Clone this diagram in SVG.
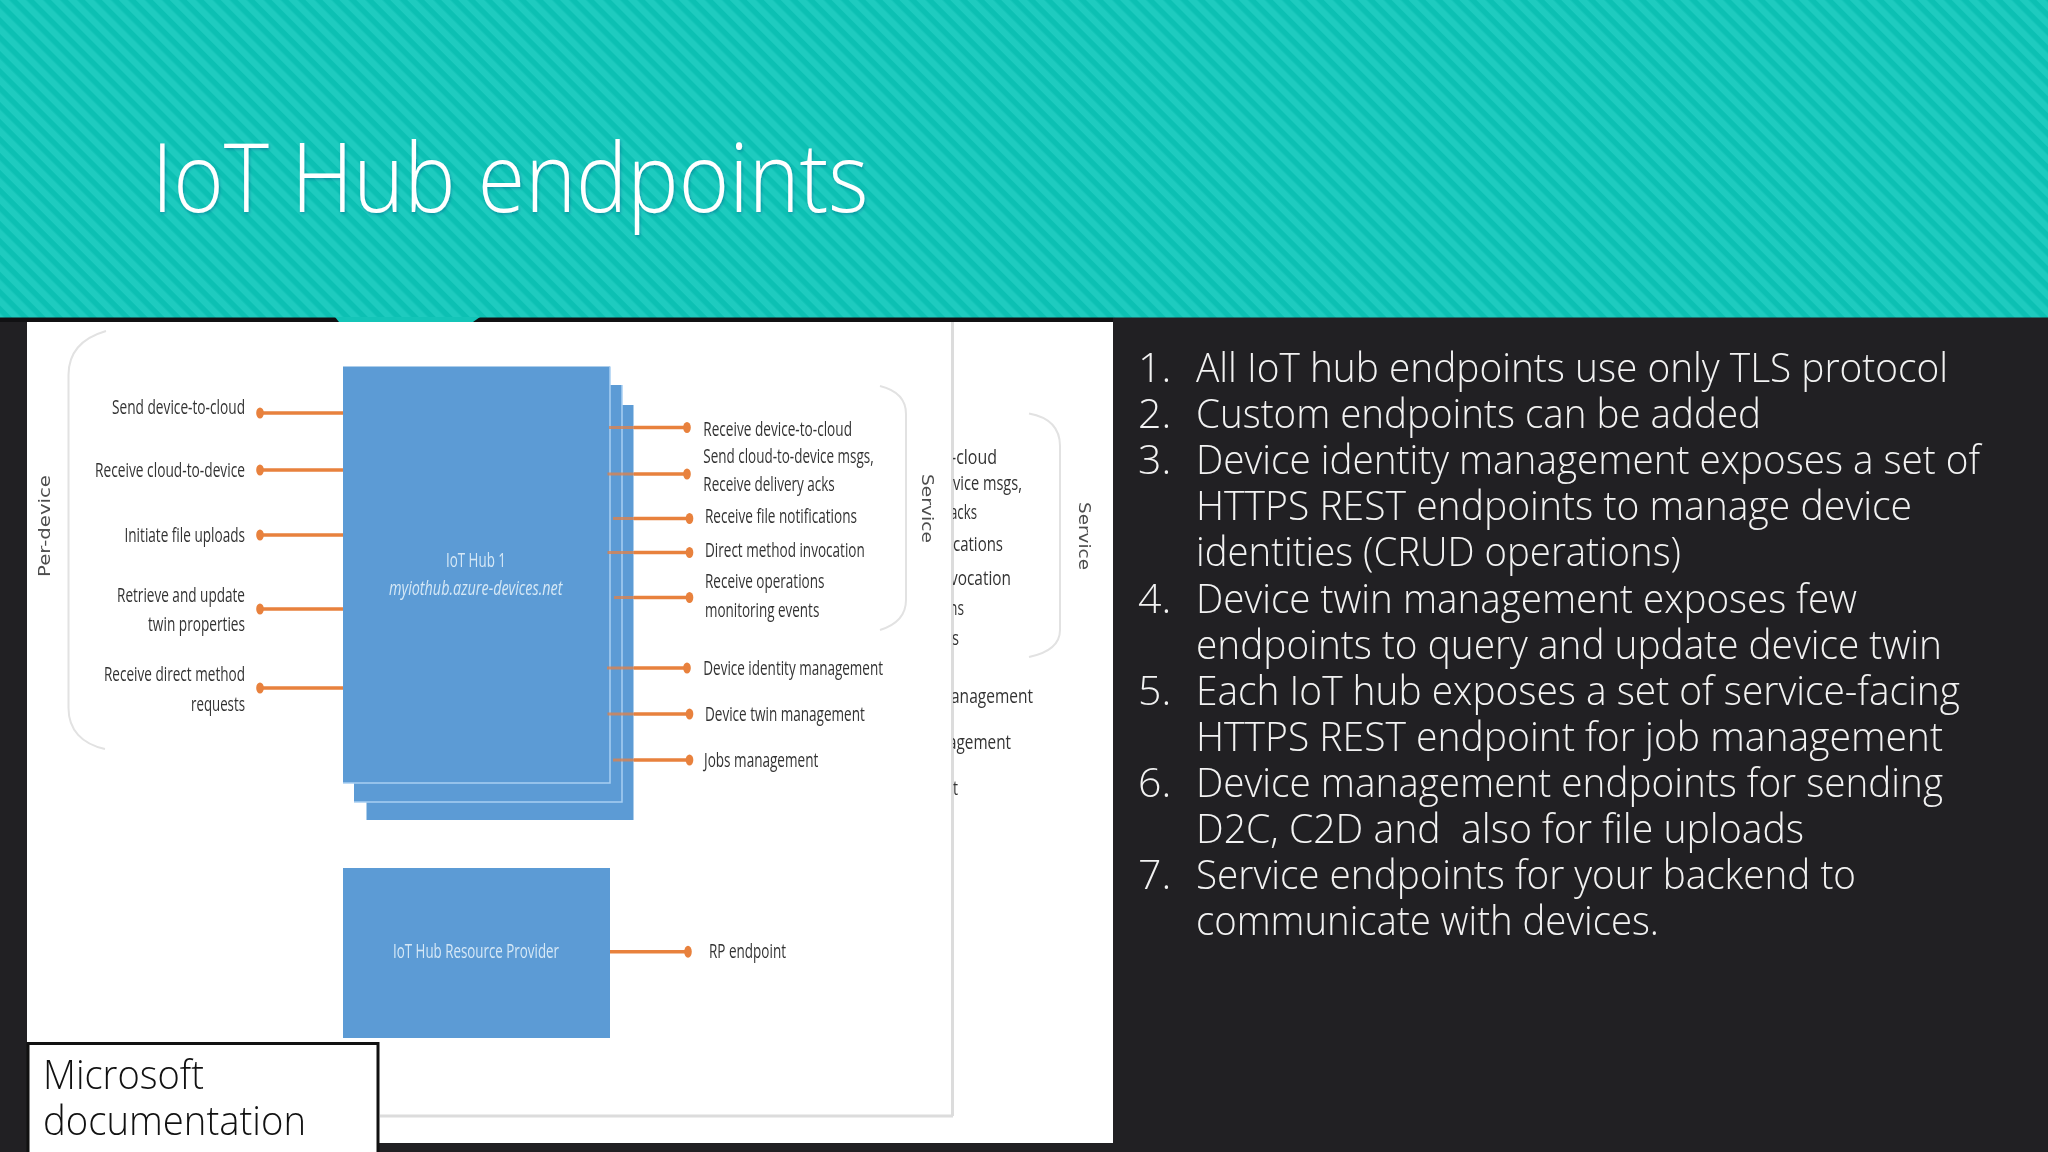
<svg xmlns="http://www.w3.org/2000/svg" width="2048" height="1152" viewBox="0 0 2048 1152">
<style>
.t{font-family:"Open Sans","Liberation Sans",sans-serif;font-weight:300}
.body{font-size:41px;fill:#f2f2f2}
.lab{font-family:"Open Sans","Liberation Sans",sans-serif;font-size:19.5px;fill:#333}
.ghost{font-family:"Open Sans","Liberation Sans",sans-serif;font-size:19.5px;fill:#333}
.side{font-family:"DejaVu Sans","Liberation Sans",sans-serif;font-size:15.5px;fill:#4e4e4e}
.box{fill:#5b9bd5}
.edge{fill:none;stroke:#a9d0f2;stroke-width:1.5}
.in{font-family:"Open Sans","Liberation Sans",sans-serif;font-size:19.5px;fill:#d6e8f6}
.con{stroke:#e8813c;stroke-width:3.4;fill:none}
.stub{stroke:#d98250;stroke-width:3;fill:none;opacity:.8}
.dot{fill:#e8813c}
.br{fill:none;stroke:#e2e2e2;stroke-width:2}
</style>
<defs>
<pattern id="st" width="12" height="12" patternUnits="userSpaceOnUse" patternTransform="rotate(45)">
<rect width="12" height="12" fill="#1ecbbf"/>
<rect width="12" height="5.500" fill="#0cc0b3"/>
</pattern>
<filter id="soft" x="-5%" y="-5%" width="110%" height="110%"><feGaussianBlur stdDeviation="0.55"/></filter>
<filter id="ts" x="-5%" y="-10%" width="110%" height="130%"><feDropShadow dx="1" dy="1.5" stdDeviation="1.5" flood-color="#006" flood-opacity="0.25"/></filter>
<clipPath id="cut"><rect x="953" y="322" width="160" height="820"/></clipPath>
</defs>

<rect width="2048" height="1152" fill="#212023"/>
<rect x="0" y="317" width="1113" height="5" fill="#111113"/>
<rect width="2048" height="317.500" fill="url(#st)"/>
<polygon points="335,317 339,322 473,322 480,317" fill="#14c5b8"/>
<rect x="27" y="322" width="1086" height="821" fill="#fff"/>

<text id="title" class="t" x="151.500" y="212" font-size="96" fill="#fff" textLength="717" lengthAdjust="spacingAndGlyphs" filter="url(#ts)">IoT Hub endpoints</text>

<g id="diagram" filter="url(#soft)">
<path d="M380 1116H953M952.500 322V1116" fill="none" stroke="#dcdcdc" stroke-width="3"/>

<g id="brackets">
<path class="br" d="M106 331C82 338 68.500 352 68.500 375V708C68.500 730 82 744 105 749"/>
<path class="br" d="M880 386C896 390 906 398 906 414V600C906 616 896 625 880 630"/>
<path class="br" d="M1029 413.500C1048 417 1060 426 1060 446V630C1060 644 1048 653 1029 657"/>
</g>

<g id="hub-stack">
<rect class="box" x="366.500" y="405" width="267" height="415"/>
<rect class="box" x="354" y="385" width="268" height="417"/>
<path class="edge" d="M622 385V802H354"/>
<rect class="box" x="343" y="366.500" width="267" height="416.500"/>
<path class="edge" d="M610 366.500V783H343"/>
<text class="in" x="446" y="567" textLength="60" lengthAdjust="spacingAndGlyphs">IoT Hub 1</text>
<text class="in" x="389" y="595" font-style="italic" textLength="173.500" lengthAdjust="spacingAndGlyphs">myiothub.azure-devices.net</text>
</g>

<g id="resource-provider">
<rect class="box" x="343" y="868" width="267" height="170"/>
<text class="in" x="393" y="958" textLength="166" lengthAdjust="spacingAndGlyphs">IoT Hub Resource Provider</text>
</g>

<g id="connectors">
<path class="con" d="M260 413H343M260 470H343M260 535H343M260 609H343M260 688H343"/>
<path class="stub" d="M609 427.500H634M607.500 474H634M613 518.500H634M607.500 552.500H634M614 597.500H634M607 668H634M607.500 714H634M613 760H634"/>
<path class="con" d="M634 427.500H687M634 474H687M634 518.500H689.500M634 552.500H689.500M634 597.500H689.500M634 668H687M634 714H689.500M634 760H689.500M610 951.700H688"/>
<g class="dot">
<ellipse cx="260" cy="413" rx="3.800" ry="5.500"/><ellipse cx="260" cy="470" rx="3.800" ry="5.500"/><ellipse cx="260" cy="535" rx="3.800" ry="5.500"/><ellipse cx="260" cy="609" rx="3.800" ry="5.500"/><ellipse cx="260" cy="688" rx="3.800" ry="5.500"/>
<ellipse cx="687" cy="427.500" rx="3.800" ry="5.500"/><ellipse cx="687" cy="474" rx="3.800" ry="5.500"/><ellipse cx="689.500" cy="518.500" rx="3.800" ry="5.500"/><ellipse cx="689.500" cy="552.500" rx="3.800" ry="5.500"/><ellipse cx="689.500" cy="597.500" rx="3.800" ry="5.500"/><ellipse cx="687" cy="668" rx="3.800" ry="5.500"/><ellipse cx="689.500" cy="714" rx="3.800" ry="5.500"/><ellipse cx="689.500" cy="760" rx="3.800" ry="5.500"/><ellipse cx="688" cy="951.700" rx="3.800" ry="6"/>
</g>
</g>

<g id="per-device-labels">
<text class="side" transform="translate(50,577) rotate(-90)" textLength="102" lengthAdjust="spacingAndGlyphs">Per-device</text>
<text class="lab" x="112" y="414" textLength="133" lengthAdjust="spacingAndGlyphs">Send device-to-cloud</text>
<text class="lab" x="95" y="477" textLength="150" lengthAdjust="spacingAndGlyphs">Receive cloud-to-device</text>
<text class="lab" x="124.500" y="542" textLength="120.500" lengthAdjust="spacingAndGlyphs">Initiate file uploads</text>
<text class="lab" x="117" y="602" textLength="128" lengthAdjust="spacingAndGlyphs">Retrieve and update</text>
<text class="lab" x="148" y="631" textLength="97" lengthAdjust="spacingAndGlyphs">twin properties</text>
<text class="lab" x="104" y="681" textLength="141" lengthAdjust="spacingAndGlyphs">Receive direct method</text>
<text class="lab" x="191" y="711" textLength="54" lengthAdjust="spacingAndGlyphs">requests</text>
</g>

<g id="service-labels">
<text class="lab" x="703.300" y="435.700" textLength="148.700" lengthAdjust="spacingAndGlyphs">Receive device-to-cloud</text>
<text class="lab" x="703.300" y="462.500" textLength="170.400" lengthAdjust="spacingAndGlyphs">Send cloud-to-device msgs,</text>
<text class="lab" x="703.300" y="491" textLength="131.500" lengthAdjust="spacingAndGlyphs">Receive delivery acks</text>
<text class="lab" x="705" y="523" textLength="152" lengthAdjust="spacingAndGlyphs">Receive file notifications</text>
<text class="lab" x="705" y="557" textLength="159.800" lengthAdjust="spacingAndGlyphs">Direct method invocation</text>
<text class="lab" x="705" y="587.500" textLength="119.500" lengthAdjust="spacingAndGlyphs">Receive operations</text>
<text class="lab" x="705" y="617" textLength="114.300" lengthAdjust="spacingAndGlyphs">monitoring events</text>
<text class="lab" x="703.300" y="675" textLength="179.700" lengthAdjust="spacingAndGlyphs">Device identity management</text>
<text class="lab" x="705" y="721" textLength="159.800" lengthAdjust="spacingAndGlyphs">Device twin management</text>
<text class="lab" x="704" y="767" textLength="114.300" lengthAdjust="spacingAndGlyphs">Jobs management</text>
<text class="lab" x="709" y="958" textLength="77" lengthAdjust="spacingAndGlyphs">RP endpoint</text>
<text class="side" transform="translate(922,474) rotate(90)" textLength="69" lengthAdjust="spacingAndGlyphs">Service</text>
<text class="side" transform="translate(1079,502) rotate(90)" textLength="68" lengthAdjust="spacingAndGlyphs">Service</text>
</g>

<g id="covered-labels" clip-path="url(#cut)">
<text class="ghost" x="951" y="463.600" textLength="46" lengthAdjust="spacingAndGlyphs">-cloud</text>
<text class="ghost" x="953" y="490" textLength="69" lengthAdjust="spacingAndGlyphs">vice msgs,</text>
<text class="ghost" x="950" y="518.600" textLength="27" lengthAdjust="spacingAndGlyphs">acks</text>
<text class="ghost" x="953" y="551" textLength="50" lengthAdjust="spacingAndGlyphs">cations</text>
<text class="ghost" x="950" y="584.600" textLength="61" lengthAdjust="spacingAndGlyphs">vocation</text>
<text class="ghost" x="949" y="615" textLength="15" lengthAdjust="spacingAndGlyphs">ns</text>
<text class="ghost" x="952" y="644.600" textLength="7" lengthAdjust="spacingAndGlyphs">s</text>
<text class="ghost" x="951" y="703" textLength="82" lengthAdjust="spacingAndGlyphs">anagement</text>
<text class="ghost" x="948" y="749" textLength="63" lengthAdjust="spacingAndGlyphs">agement</text>
<text class="ghost" x="953" y="795" textLength="5" lengthAdjust="spacingAndGlyphs">t</text>
</g>
</g>

<g id="caption">
<rect x="28" y="1043.500" width="350" height="112" fill="#fff" stroke="#111" stroke-width="3"/>
<text class="t" x="43" y="1089" font-size="41" fill="#111" textLength="161" lengthAdjust="spacingAndGlyphs">Microsoft</text>
<text class="t" x="43" y="1135" font-size="41" fill="#111" textLength="263" lengthAdjust="spacingAndGlyphs">documentation</text>
</g>

<g id="notes" class="t">
<g class="body">
<text x="1138" y="382">1.</text>
<text x="1138" y="428">2.</text>
<text x="1138" y="474">3.</text>
<text x="1138" y="612.500">4.</text>
<text x="1138" y="704.500">5.</text>
<text x="1138" y="796.600">6.</text>
<text x="1138" y="888.700">7.</text>
<text x="1196" y="382" textLength="752" lengthAdjust="spacingAndGlyphs">All IoT hub endpoints use only TLS protocol</text>
<text x="1196" y="428" textLength="565" lengthAdjust="spacingAndGlyphs">Custom endpoints can be added</text>
<text x="1196" y="474" textLength="784" lengthAdjust="spacingAndGlyphs">Device identity management exposes a set of</text>
<text x="1196" y="520.300" textLength="716" lengthAdjust="spacingAndGlyphs">HTTPS REST endpoints to manage device</text>
<text x="1196" y="566.400" textLength="485" lengthAdjust="spacingAndGlyphs">identities (CRUD operations)</text>
<text x="1196" y="612.500" textLength="661" lengthAdjust="spacingAndGlyphs">Device twin management exposes few</text>
<text x="1196" y="658.600" textLength="746" lengthAdjust="spacingAndGlyphs">endpoints to query and update device twin</text>
<text x="1196" y="704.500" textLength="764" lengthAdjust="spacingAndGlyphs">Each IoT hub exposes a set of service-facing</text>
<text x="1196" y="750.500" textLength="747" lengthAdjust="spacingAndGlyphs">HTTPS REST endpoint for job management</text>
<text x="1196" y="796.600" textLength="747" lengthAdjust="spacingAndGlyphs">Device management endpoints for sending</text>
<text x="1196" y="842.700" xml:space="preserve" textLength="608" lengthAdjust="spacingAndGlyphs">D2C, C2D and  also for file uploads</text>
<text x="1196" y="888.700" textLength="660" lengthAdjust="spacingAndGlyphs">Service endpoints for your backend to</text>
<text x="1196" y="934.800" textLength="463" lengthAdjust="spacingAndGlyphs">communicate with devices.</text>
</g>
</g>
</svg>
